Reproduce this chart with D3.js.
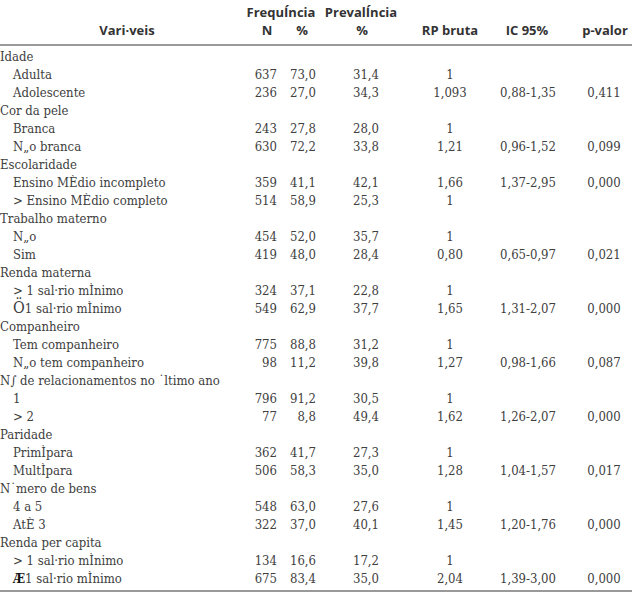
<!DOCTYPE html>
<html>
<head>
<meta charset="utf-8">
<script src="https://cdn.jsdelivr.net/npm/d3@7"></script>
<style>
  body { margin: 0; background: #fff; }
  svg { display: block; }
  .hd { font-family: "Open Sans", sans-serif; font-weight: 700; font-size: 13px; fill: #333; }
  .tx { font-family: "DejaVu Serif Condensed", "DejaVu Serif", serif; font-size: 13px; fill: #404040; }
</style>
</head>
<body>
<div id="chartContainer"></div>
<script>
var width = 632;
var height = 593;

// grupos e niveis
var groups = ['Idade', 'Cor da pele', 'Escolaridade', 'Trabalho materno', 'Renda materna', 'Companheiro',
  'N\u222B de relacionamentos no \u02D9ltimo ano', 'Paridade', 'N\u02D9mero de bens', 'Renda per capita'];
var levels = ['Adulta', 'Adolescente', 'Branca', 'N\u201Eo branca',
  'Ensino M\u00C8dio incompleto', '> Ensino M\u00C8dio completo', 'N\u201Eo', 'Sim',
  '> 1 sal\u00B7rio m\u00CCnimo', '\u00D61 sal\u00B7rio m\u00CCnimo', 'Tem companheiro', 'N\u201Eo tem companheiro',
  '1', '> 2', 'Prim\u00CCpara', 'Mult\u00CCpara', '4 a 5', 'At\u00C8 3',
  '> 1 sal\u00B7rio m\u00CCnimo', '\u00C61 sal\u00B7rio m\u00CCnimo'];
var freqN = [637, 236, 243, 630, 359, 514, 454, 419, 324, 549, 775, 98, 796, 77, 362, 506, 548, 322, 134, 675];
var freqPct = [73.0, 27.0, 27.8, 72.2, 41.1, 58.9, 52.0, 48.0, 37.1, 62.9, 88.8, 11.2, 91.2, 8.8, 41.7, 58.3, 63.0, 37.0, 16.6, 83.4];
var prevalencia = [31.4, 34.3, 28.0, 33.8, 42.1, 25.3, 35.7, 28.4, 22.8, 37.7, 31.2, 39.8, 30.5, 49.4, 27.3, 35.0, 27.6, 40.1, 17.2, 35.0];
var rpBruta = ['1', '1,093', '1', '1,21', '1,66', '1', '1', '0,80', '1', '1,65', '1', '1,27', '1', '1,62', '1', '1,28', '1', '1,45', '1', '2,04'];
var icLow = [null, 0.88, null, 0.96, 1.37, null, null, 0.65, null, 1.31, null, 0.98, null, 1.26, null, 1.04, null, 1.20, null, 1.39];
var icHigh = [null, 1.35, null, 1.52, 2.95, null, null, 0.97, null, 2.07, null, 1.66, null, 2.07, null, 1.57, null, 1.76, null, 3.00];
var pValor = [null, 0.411, null, 0.099, 0.000, null, null, 0.021, null, 0.000, null, 0.087, null, 0.000, null, 0.017, null, 0.000, null, 0.000];

var br = function (f) { var fm = d3.format(f); return function (v) { return fm(v).replace('.', ','); }; };
var f1 = br('.1f'), f2 = br('.2f'), f3 = br('.3f');

// monta linhas: grupo seguido de dois niveis
var rows = [];
groups.forEach(function (g, gi) {
  rows.push({ label: g, group: true });
  [0, 1].forEach(function (k) {
    var i = gi * 2 + k;
    rows.push({
      label: levels[i], group: false,
      n: freqN[i] + '', pct: f1(freqPct[i]), prev: f1(prevalencia[i]), rp: rpBruta[i],
      ic: icLow[i] == null ? '' : f2(icLow[i]) + '-' + f2(icHigh[i]),
      p: pValor[i] == null ? '' : f3(pValor[i])
    });
  });
});

var yScale = d3.scaleBand().domain(d3.range(rows.length)).range([48, 48 + rows.length * 18]);

var cols = ['n', 'pct', 'prev', 'rp', 'ic', 'p'];
var xCol = d3.scaleOrdinal().domain(cols).range([277, 316, 379, 450, 528, 604]);
var anchor = d3.scaleOrdinal().domain(cols).range(['end', 'end', 'end', 'middle', 'middle', 'middle']);

var svg = d3.select('#chartContainer').append('svg')
  .attr('width', width).attr('height', height);

// cabecalho
var head = [
  { t: 'Frequ\u00CDncia', x: 281, y: 17 },
  { t: 'Preval\u00CDncia', x: 361, y: 17 },
  { t: 'Vari\u00B7veis', x: 127, y: 35 },
  { t: 'N', x: 267, y: 35 },
  { t: '%', x: 302, y: 35 },
  { t: '%', x: 362, y: 35 },
  { t: 'RP bruta', x: 450, y: 35 },
  { t: 'IC 95%', x: 527, y: 35 },
  { t: 'p-valor', x: 605, y: 35 }
];
svg.selectAll('text.hd').data(head).enter().append('text')
  .attr('class', 'hd')
  .attr('x', function (d) { return d.x; })
  .attr('y', function (d) { return d.y; })
  .attr('text-anchor', 'middle')
  .text(function (d) { return d.t; });

svg.append('line').attr('x1', 0).attr('x2', width).attr('y1', 45).attr('y2', 45)
  .attr('stroke', '#9a9a9a').attr('stroke-width', 2);
svg.append('line').attr('x1', 0).attr('x2', width).attr('y1', 591).attr('y2', 591)
  .attr('stroke', '#9a9a9a').attr('stroke-width', 2);

var row = svg.selectAll('g.row').data(rows).enter().append('g')
  .attr('class', 'row')
  .attr('transform', function (d, i) { return 'translate(0,' + (yScale(i) + 13) + ')'; });

// rotulos; simbolos corrompidos no inicio ficam maiores, como no original
var lab = row.append('text').attr('class', 'tx')
  .attr('x', function (d) { return d.group ? 0 : 13; });
lab.each(function (d) {
  var t = d3.select(this);
  var first = d.label.charAt(0);
  if (first === '\u00D6' || first === '\u00C6') {
    t.append('tspan')
      .style('font-size', first === '\u00D6' ? '16px' : '13px')
      .style('font-weight', first === '\u00C6' ? 900 : null)
      .style('fill', first === '\u00C6' ? '#111' : null)
      .text(first);
    t.append('tspan').text(d.label.slice(1));
  } else {
    t.text(d.label);
  }
});

cols.forEach(function (c) {
  row.filter(function (d) { return !d.group; }).append('text').attr('class', 'tx')
    .attr('x', xCol(c))
    .attr('text-anchor', anchor(c))
    .text(function (d) { return d[c]; });
});
</script>
</body>
</html>
